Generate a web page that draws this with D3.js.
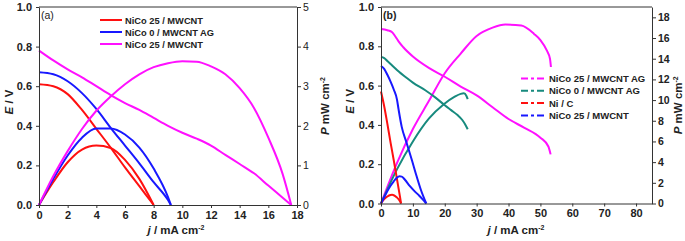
<!DOCTYPE html>
<html>
<head>
<meta charset="utf-8">
<script src="https://cdn.jsdelivr.net/npm/d3@7"></script>
<style>
  body { margin: 0; background: #fff; }
  svg { font-family: "Liberation Sans", Arial, sans-serif; }
</style>
</head>
<body>
<svg id="chart" width="685" height="241"></svg>
<script>
// ---- panel (a) data, j in mA cm-2, E in V, P in mW cm-2
let jRedA  = [0, 1, 2, 3, 4, 5, 6, 7, 8];
let eRedA  = [0.61, 0.60, 0.56, 0.48, 0.385, 0.29, 0.19, 0.095, 0];
let pRedA  = [0, 0.58, 1.08, 1.40, 1.50, 1.44, 1.14, 0.66, 0];

let jBlueA = [0, 1, 2, 3, 4, 5, 6, 7, 8, 9, 9.2];
let eBlueA = [0.67, 0.66, 0.625, 0.565, 0.485, 0.39, 0.30, 0.21, 0.115, 0.025, 0];
let pBlueA = [0, 0.66, 1.25, 1.70, 1.93, 1.93, 1.78, 1.45, 0.92, 0.20, 0];

let jMagA  = [0, 1, 2, 3, 4, 5, 6, 7, 8, 9, 10, 11, 12, 13, 14, 15, 16, 17, 17.6];
let eMagA  = [0.78, 0.73, 0.685, 0.645, 0.60, 0.555, 0.515, 0.48, 0.44, 0.40, 0.365,
              0.335, 0.30, 0.253, 0.207, 0.16, 0.098, 0.037, 0];
let pMagA  = [0, 0.73, 1.36, 1.92, 2.38, 2.74, 3.05, 3.30, 3.48, 3.58, 3.63,
              3.62, 3.50, 3.30, 2.95, 2.45, 1.70, 0.78, 0];

let legendA = ['NiCo 25 / MWCNT', 'NiCo 0 / MWCNT AG', 'NiCo 25 / MWCNT'];

// ---- panel (b) data
let jMagBE = [0, 2, 3.5, 4.5, 5.5, 7, 10, 15, 20, 25, 30, 35, 40, 45, 50, 52.5, 53.2];
let eMagB  = [0.888, 0.882, 0.872, 0.85, 0.825, 0.795, 0.748, 0.69, 0.645, 0.595,
              0.55, 0.49, 0.43, 0.385, 0.335, 0.29, 0.25];
let jMagBP = [0, 5, 10, 15, 20, 25, 30, 35, 39, 44, 48, 50, 52, 53, 53.3];
let pMagB  = [0, 3.9, 7.2, 9.9, 12.6, 14.5, 16.2, 17.0, 17.3, 17.2, 16.4, 15.8, 14.8, 14.0, 13.2];

let jTealBE = [0, 1, 2, 3, 5, 8, 10, 14, 17, 20, 22, 24, 25.5, 26.5, 27.2];
let eTealB  = [0.745, 0.74, 0.725, 0.71, 0.68, 0.64, 0.615, 0.575, 0.54, 0.50, 0.475,
               0.45, 0.425, 0.40, 0.378];
let jTealBP = [0, 5, 10, 15, 19.7, 23, 25, 26, 26.8, 27.2];
let pTealB  = [0, 3.3, 6.0, 8.2, 9.6, 10.3, 10.6, 10.65, 10.4, 10.1];

let jRedBE = [0, 1, 2, 3, 4, 5, 6, 6.3];
let eRedB  = [0.57, 0.495, 0.405, 0.31, 0.22, 0.125, 0.03, 0];
let jRedBP = [0, 1, 2, 3, 3.5, 4, 5, 5.5, 6, 6.3];
let pRedB  = [0, 0.42, 0.68, 0.82, 0.84, 0.80, 0.58, 0.42, 0.18, 0];

let jBlueBE = [0, 1, 2, 3, 4, 5, 5.5, 6.5, 8, 9.7, 11.2, 12.5, 14.2];
let eBlueB  = [0.70, 0.685, 0.655, 0.62, 0.58, 0.53, 0.48, 0.39, 0.31, 0.22, 0.137, 0.07, 0];
let jBlueBP = [0, 1, 2, 3, 4, 5, 5.8, 6.5, 7.5, 9, 10.5, 12, 13, 14.2];
let pBlueB  = [0, 0.6, 1.2, 1.72, 2.15, 2.5, 2.63, 2.6, 2.3, 1.7, 1.2, 0.75, 0.42, 0];

let legendB = ['NiCo 25 / MWCNT AG', 'NiCo 0 / MWCNT AG', 'Ni / C', 'NiCo 25 / MWCNT'];

let eTicks = [0, 0.2, 0.4, 0.6, 0.8, 1.0];
let jTicksA = [0, 2, 4, 6, 8, 10, 12, 14, 16, 18];
let jTicksB = [0, 10, 20, 30, 40, 50, 60, 70, 80];
let pTicksA = [0, 1, 2, 3, 4, 5];
let pTicksB = [0, 2, 4, 6, 8, 10, 12, 14, 16, 18];

let RED = '#ff1010', BLUE = '#1818ff', MAG = '#ff10ff', TEAL = '#178a7e';

function zip(xs, ys) {
  return xs.map((x, i) => [x, ys[i]]);
}

let svg = d3.select('#chart');

// draws one panel: both y axes, all curves and the legend
function drawPanel(o) {
  let g = svg.append('g');
  let x = d3.scaleLinear().domain([0, o.jMax]).range([o.left, o.right]);
  let yE = d3.scaleLinear().domain([0, 1]).range([o.bottom, o.top]);
  let yP = d3.scaleLinear().domain([0, o.pMax]).range([o.bottom, o.top]);

  // curves
  let lineE = d3.line().x(d => x(d[0])).y(d => yE(d[1])).curve(d3.curveMonotoneX);
  let lineP = d3.line().x(d => x(d[0])).y(d => yP(d[1])).curve(d3.curveMonotoneX);
  o.series.forEach(s => {
    g.append('path').attr('d', lineE(s.e)).attr('fill', 'none')
      .attr('stroke', s.color).attr('stroke-width', 2);
    g.append('path').attr('d', lineP(s.p)).attr('fill', 'none')
      .attr('stroke', s.color).attr('stroke-width', 2);
  });

  // axes
  let ax = g.append('g').attr('transform', `translate(0,${o.bottom})`)
    .call(d3.axisBottom(x).tickValues(o.jTicks).tickSize(3).tickSizeOuter(0).tickPadding(3));
  let ayl = g.append('g').attr('transform', `translate(${o.left},0)`)
    .call(d3.axisLeft(yE).tickValues(eTicks).tickFormat(d3.format('.1f'))
      .tickSize(3).tickSizeOuter(0).tickPadding(4));
  let ayr = g.append('g').attr('transform', `translate(${o.right},0)`)
    .call(d3.axisRight(yP).tickValues(o.pTicks).tickFormat(d3.format('d'))
      .tickSize(4).tickSizeOuter(0).tickPadding(2));
  [ax, ayl, ayr].forEach(a => {
    a.select('.domain').attr('stroke', '#333');
    a.selectAll('.tick line').attr('stroke', '#333');
    a.selectAll('text').attr('fill', '#222').style('font-size', '11px')
      .style('font-weight', 'bold');
  });
  ayr.selectAll('text').style('font-size', '10.5px')
    .style('font-weight', o.pBold ? 'bold' : 'normal');
  g.append('line').attr('x1', o.left).attr('x2', o.right)
    .attr('y1', o.top).attr('y2', o.top).attr('stroke', '#333');

  // panel tag
  g.append('text').attr('x', o.left + 2).attr('y', o.top + 12)
    .style('font-size', '10.5px').style('font-weight', o.pBold ? 'bold' : 'normal')
    .attr('fill', '#222').text(o.tag);

  // axis titles
  let tx = g.append('text').attr('x', o.jTitleX).attr('y', 234)
    .attr('text-anchor', 'middle').style('font-size', '11.5px')
    .style('font-weight', 'bold').attr('fill', '#222');
  tx.append('tspan').style('font-style', 'italic').text('j');
  tx.append('tspan').text(' / mA cm');
  tx.append('tspan').attr('dy', -4).style('font-size', '7px').text('-2');

  let ty = g.append('text')
    .attr('transform', `translate(${o.eTitleX},${(o.top + o.bottom) / 2 - 4}) rotate(-90)`)
    .attr('text-anchor', 'middle').style('font-size', '11.5px')
    .style('font-weight', 'bold').attr('fill', '#222');
  ty.append('tspan').style('font-style', 'italic').text('E');
  ty.append('tspan').text(' / V');

  let tp = g.append('text')
    .attr('transform', `translate(${o.pTitleX},${(o.top + o.bottom) / 2}) rotate(-90)`)
    .attr('text-anchor', 'middle').style('font-size', '11.5px')
    .style('font-weight', 'bold').attr('fill', '#222');
  tp.append('tspan').style('font-style', 'italic').text('P');
  tp.append('tspan').text(' mW cm');
  tp.append('tspan').attr('dy', -4).style('font-size', '7px').text('-2');

  // legend
  o.legend.forEach((name, i) => {
    let yy = o.legY + i * o.legStep;
    g.append('line').attr('x1', o.legX).attr('x2', o.legX + o.legLen)
      .attr('y1', yy).attr('y2', yy).attr('stroke', o.legColors[i])
      .attr('stroke-width', 2).attr('stroke-dasharray', o.legDash);
    g.append('text').attr('x', o.legX + o.legLen + 3).attr('y', yy + 3.5)
      .style('font-size', o.legFont).style('font-weight', 'bold')
      .attr('fill', '#222').text(name);
  });
}

drawPanel({
  left: 39, right: 297, top: 7, bottom: 205,
  jMax: 18, pMax: 5, jTicks: jTicksA, pTicks: pTicksA, pBold: false, tag: '(a)',
  jTitleX: 176, eTitleX: 13, pTitleX: 329,
  series: [
    {color: RED, e: zip(jRedA, eRedA), p: zip(jRedA, pRedA)},
    {color: BLUE, e: zip(jBlueA, eBlueA), p: zip(jBlueA, pBlueA)},
    {color: MAG, e: zip(jMagA, eMagA), p: zip(jMagA, pMagA)}
  ],
  legend: legendA, legColors: [RED, BLUE, MAG], legDash: null,
  legX: 100, legLen: 22, legY: 20, legStep: 12, legFont: '9.3px'
});

drawPanel({
  left: 381, right: 652, top: 7, bottom: 203.5,
  jMax: 85, pMax: 19, jTicks: jTicksB, pTicks: pTicksB, pBold: true, tag: '(b)',
  jTitleX: 516, eTitleX: 354, pTitleX: 682,
  series: [
    {color: MAG, e: zip(jMagBE, eMagB), p: zip(jMagBP, pMagB)},
    {color: TEAL, e: zip(jTealBE, eTealB), p: zip(jTealBP, pTealB)},
    {color: RED, e: zip(jRedBE, eRedB), p: zip(jRedBP, pRedB)},
    {color: BLUE, e: zip(jBlueBE, eBlueB), p: zip(jBlueBP, pBlueB)}
  ],
  legend: legendB, legColors: [MAG, TEAL, RED, BLUE], legDash: '7,3,3,3',
  legX: 521, legLen: 25, legY: 78.5, legStep: 12.3, legFont: '9.5px'
});
</script>
</body>
</html>
